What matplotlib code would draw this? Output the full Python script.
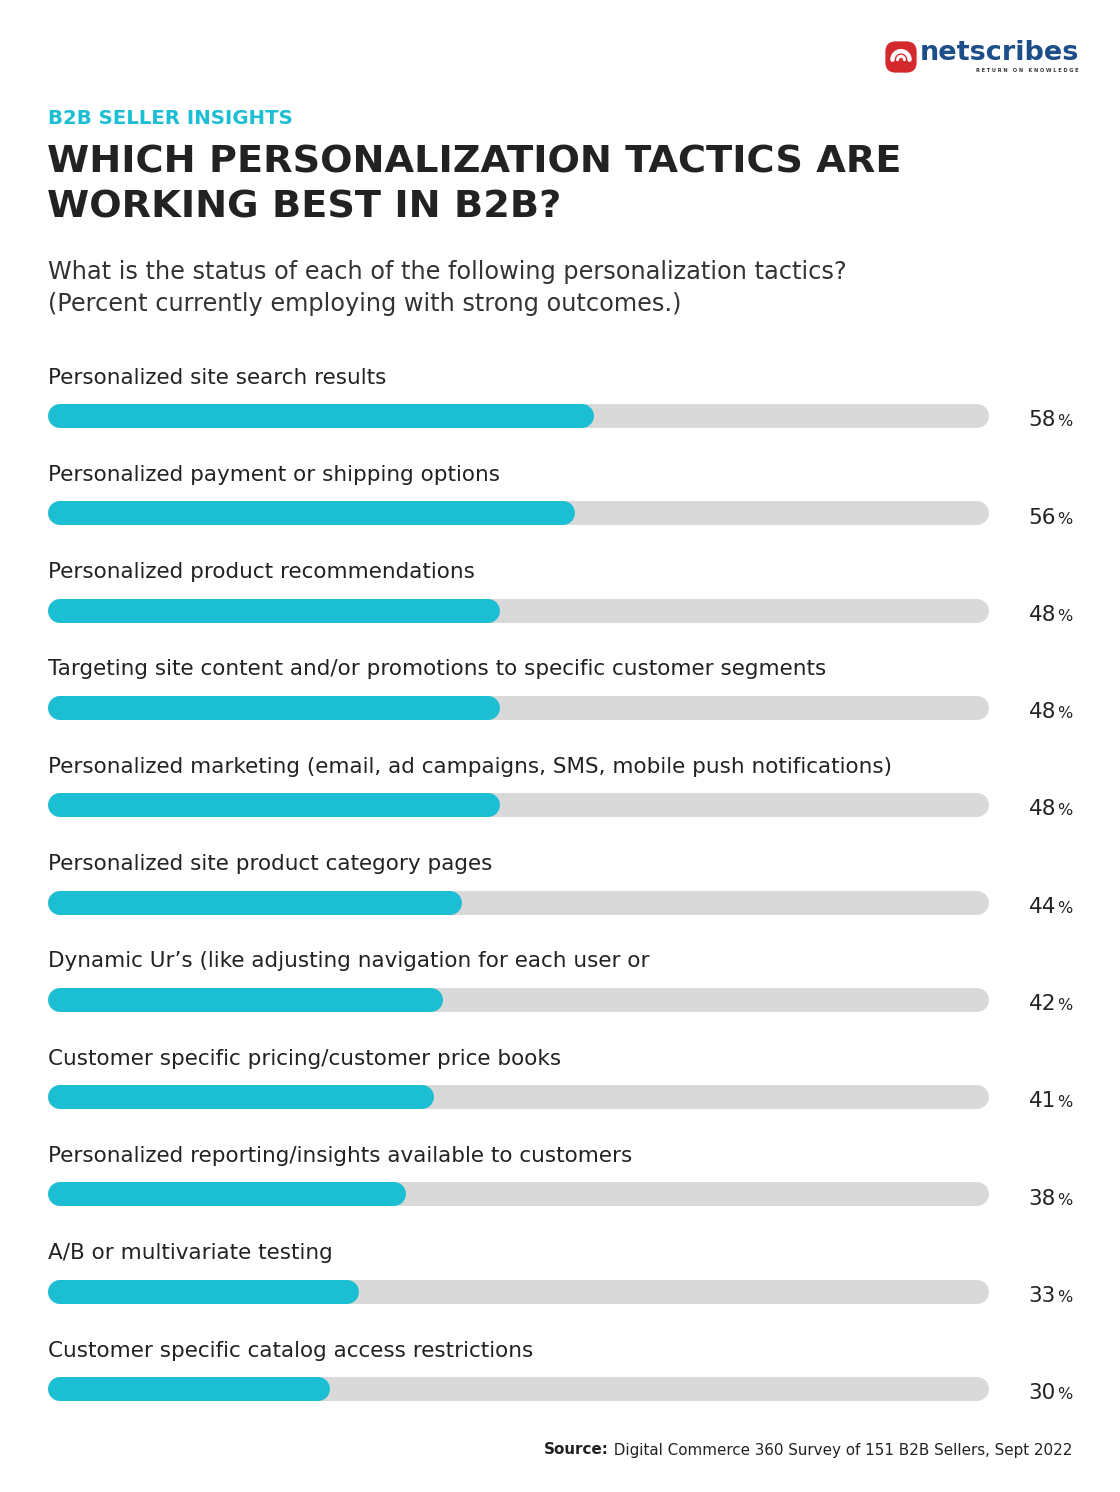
import matplotlib
matplotlib.use("Agg")
import matplotlib.pyplot as plt
from matplotlib.patches import FancyBboxPatch
import numpy as np

categories = [
    "Personalized site search results",
    "Personalized payment or shipping options",
    "Personalized product recommendations",
    "Targeting site content and/or promotions to specific customer segments",
    "Personalized marketing (email, ad campaigns, SMS, mobile push notifications)",
    "Personalized site product category pages",
    "Dynamic Ur\u2019s (like adjusting navigation for each user or",
    "Customer specific pricing/customer price books",
    "Personalized reporting/insights available to customers",
    "A/B or multivariate testing",
    "Customer specific catalog access restrictions",
]
values = [58, 56, 48, 48, 48, 44, 42, 41, 38, 33, 30]
value_max = 100

kicker = "B2B SELLER INSIGHTS"
title = "WHICH PERSONALIZATION TACTICS ARE\nWORKING BEST IN B2B?"
subtitle = ("What is the status of each of the following personalization tactics?\n"
            "(Percent currently employing with strong outcomes.)")
source_bold = "Source:"
source_text = " Digital Commerce 360 Survey of 151 B2B Sellers, Sept 2022"

CYAN = "#1BBED2"
TRACK = "#D9D9D9"
DARK = "#222222"
FONT = "DejaVu Sans"

W, H = 1120, 1492
fig = plt.figure(figsize=(W / 100, H / 100), dpi=100)
fig.patch.set_facecolor("white")

def fx(px):
    return px / W

def fy(py):
    return 1 - py / H

# Header texts
fig.text(fx(48), fy(118), kicker, color=CYAN, fontsize=14.2, fontweight="bold",
         family=FONT, va="center", ha="left")
fig.text(fx(47), fy(185), title, color=DARK, fontsize=27.5, fontweight="bold",
         family=FONT, va="center", ha="left", linespacing=1.32)
fig.text(fx(48), fy(288), subtitle, color="#333333", fontsize=17.3,
         family=FONT, va="center", ha="left", linespacing=1.42)

# Logo
lax = fig.add_axes([fx(884), fy(74), fx(34), 34 / H])
lax.set_xlim(0, 1); lax.set_ylim(0, 1); lax.axis("off")
lax.add_patch(FancyBboxPatch((0.04, 0.04), 0.92, 0.92,
                             boxstyle="round,pad=0,rounding_size=0.3",
                             fc="#D42A2E", ec="none"))
t = np.linspace(0, np.pi, 50)
lax.plot(0.5 + 0.25 * np.cos(t), 0.42 + 0.25 * np.sin(t), color="white", lw=3.2,
         solid_capstyle="round")
lax.plot(0.5 + 0.1 * np.cos(t), 0.42 + 0.1 * np.sin(t), color="white", lw=2.2,
         solid_capstyle="round")
fig.text(fx(1079), fy(53), "netscribes", color="#1C4E8A", fontsize=19.5,
         fontweight="bold", family=FONT, va="center", ha="right")
fig.text(fx(1078), fy(71), "R E T U R N   O N   K N O W L E D G E", color="#333333",
         fontsize=3.6, fontweight="bold", family=FONT, va="center", ha="right")

# Bars axes: x 48..989 px, bar centres 416..1389 px
n = len(categories)
top_c, bot_c = 416, 1389
step = (bot_c - top_c) / (n - 1)
ax_top = top_c - step / 2
ax_bot = bot_c + step / 2
ax = fig.add_axes([fx(48), fy(ax_bot), fx(989 - 48), (ax_bot - ax_top) / H])
ax.set_xlim(0, value_max)
ax.set_ylim(n - 0.5, -0.5)
ax.axis("off")

fig.canvas.draw()
bar_px = 24
px_per_unit = ax.transData.transform((1, 0))[0] - ax.transData.transform((0, 0))[0]
r = (bar_px / 2) / px_per_unit
lw_pt = bar_px * 72 / fig.dpi
num_x = (1056 - 48) / px_per_unit
pct_x = (1057 - 48) / px_per_unit

for i, (cat, v) in enumerate(zip(categories, values)):
    ax.plot([r, value_max - r], [i, i], color=TRACK, lw=lw_pt,
            solid_capstyle="round", zorder=1)
    ax.plot([r, max(v - r, r)], [i, i], color=CYAN, lw=lw_pt,
            solid_capstyle="round", zorder=2)
    ax.text(0, i - 0.395, cat, color=DARK, fontsize=15.5, family=FONT,
            va="center", ha="left", clip_on=False)
    ax.text(num_x, i + 0.105, f"{v}", color=DARK, fontsize=15.5, family=FONT,
            va="baseline", ha="right", clip_on=False)
    ax.text(pct_x, i + 0.105, "%", color=DARK, fontsize=11.5,
            family=FONT, va="baseline", ha="left", clip_on=False)

# Source
fig.text(fx(1072), fy(1450), source_text, color=DARK, fontsize=10.9, family=FONT,
         va="center", ha="right")
st = fig.texts[-1]
fig.canvas.draw()
bb = st.get_window_extent(renderer=fig.canvas.get_renderer())
fig.text(bb.x0 / W, fy(1450), source_bold, color=DARK, fontsize=10.9,
         fontweight="bold", family=FONT, va="center", ha="right")

fig.savefig("out.png", dpi=100, facecolor="white")
